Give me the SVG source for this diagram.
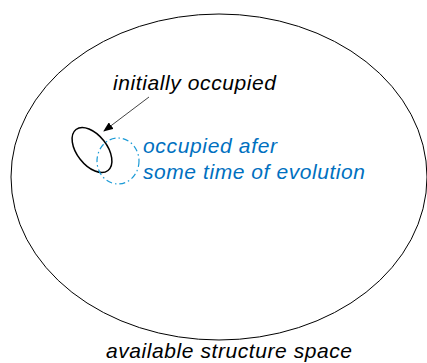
<svg xmlns="http://www.w3.org/2000/svg" width="427" height="363" viewBox="0 0 427 363">
<defs>
<marker id="ah" markerWidth="10" markerHeight="8" refX="9" refY="4" orient="auto" markerUnits="userSpaceOnUse"><path d="M0,0 L10,4 L0,8 Z" fill="#000"/></marker>
<style>
.t{font-family:"Liberation Sans",Arial,sans-serif;font-style:italic;font-size:21px}
.b{fill:#0070C0}
</style>
</defs>
<rect width="427" height="363" fill="#fff"/>
<g id="space"><ellipse cx="219" cy="177" rx="208" ry="163" fill="none" stroke="#000" stroke-width="1"/></g>
<g id="initial"><ellipse cx="92" cy="150" rx="26" ry="15" transform="rotate(52 92 150)" fill="none" stroke="#000" stroke-width="1.5"/></g>
<g id="evolved"><ellipse cx="118" cy="161" rx="21" ry="23" fill="none" stroke="#1a9ad6" stroke-width="1.2" stroke-dasharray="6 3 1.5 3"/></g>
<g id="connectors"><line x1="149" y1="97" x2="104" y2="131" stroke="#444" stroke-width="1" marker-end="url(#ah)"/></g>
<g id="labels">
<text class="t" x="113" y="90" textLength="163" lengthAdjust="spacing">initially occupied</text>
<text class="t b" x="143" y="153" textLength="134" lengthAdjust="spacing">occupied afer</text>
<text class="t b" x="143" y="179" textLength="222" lengthAdjust="spacing">some time of evolution</text>
<text class="t" x="106" y="358" textLength="246" lengthAdjust="spacing">available structure space</text>
</g>
</svg>
